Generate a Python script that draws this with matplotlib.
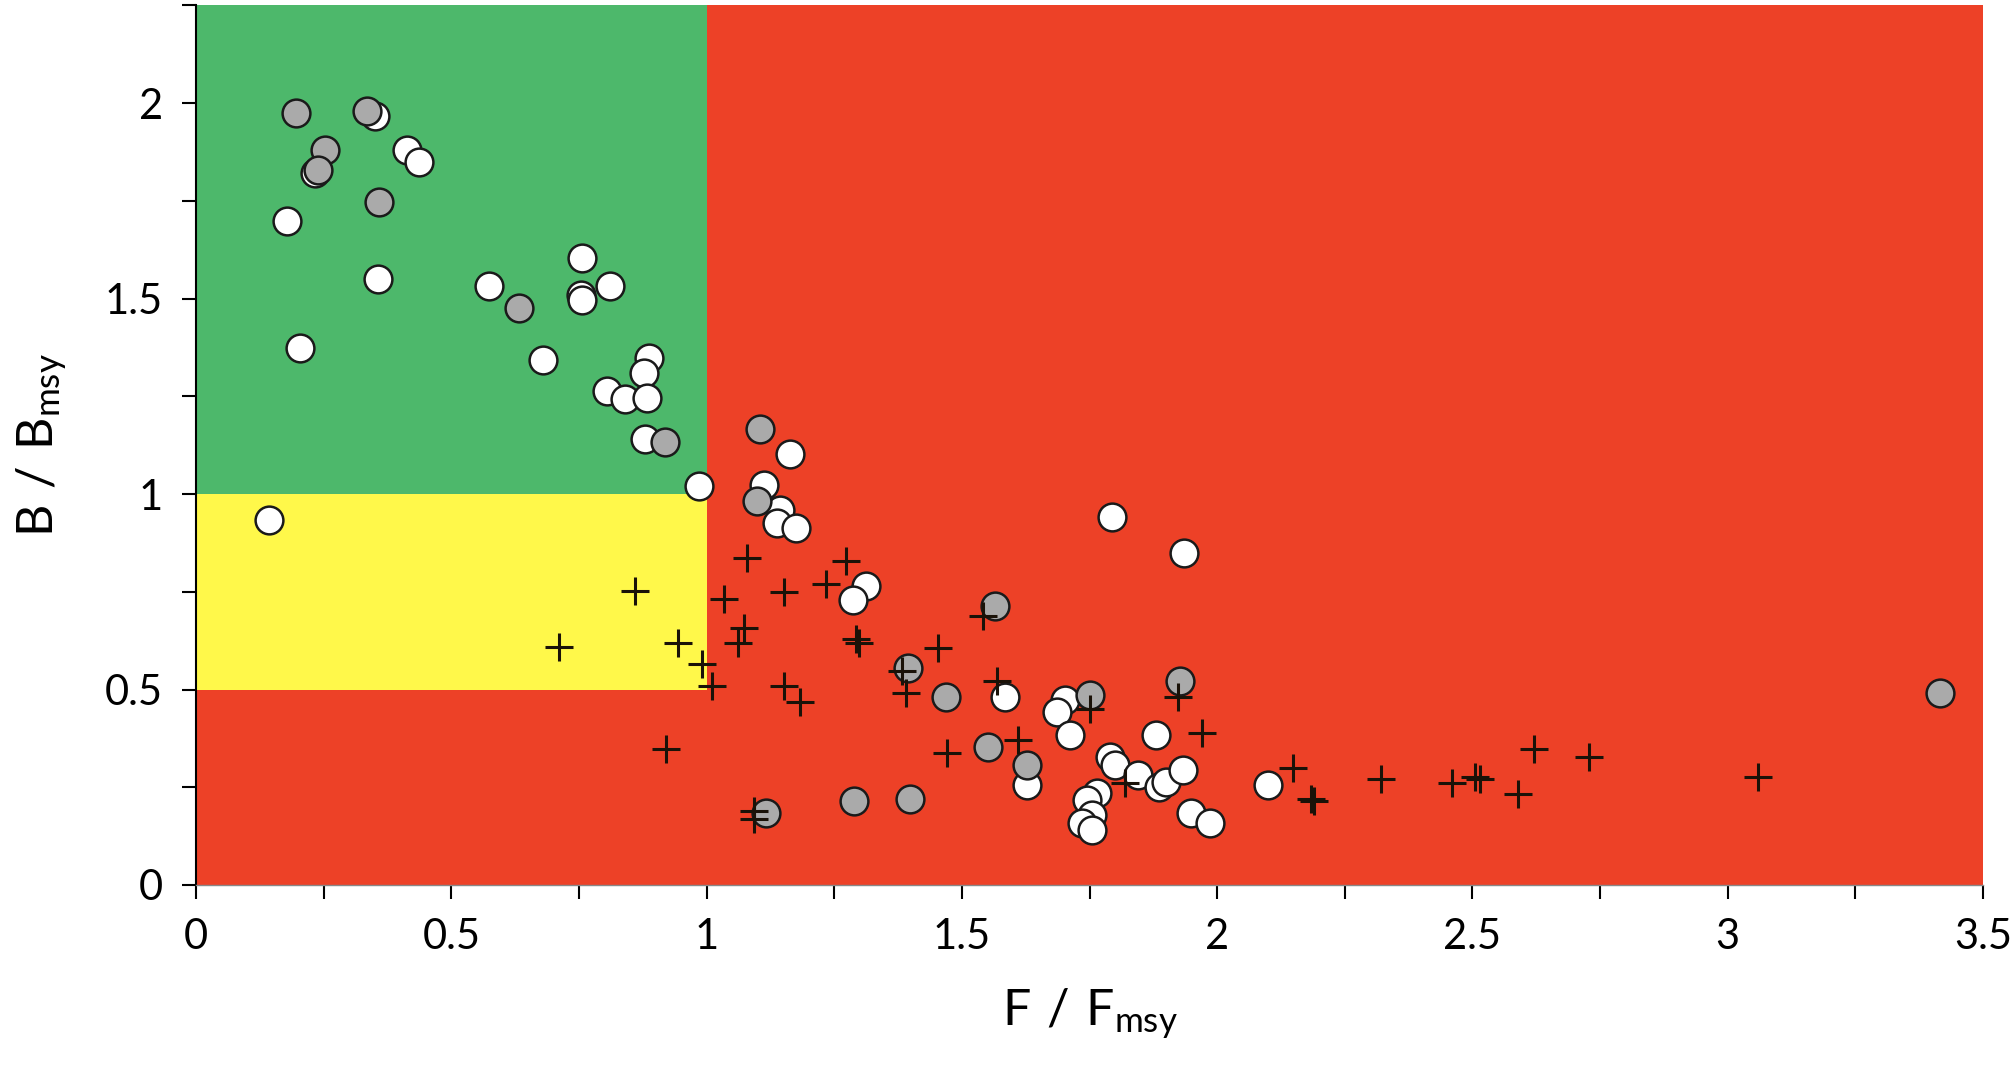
import matplotlib
matplotlib.use("Agg")
import matplotlib.pyplot as plt
from matplotlib.ticker import MultipleLocator

plt.rcParams['font.family'] = ['Lato', 'DejaVu Sans']

# Reference points / thresholds
F_LIMIT = 1.0
B_TARGET = 1.0
B_LIMIT = 0.5
X_MAX = 3.5
Y_MAX = 2.25

# Series 1: white circles
white_F = [0.350, 0.413, 0.437, 0.232, 0.179, 0.356, 0.203, 0.574, 0.756, 0.754,
           0.756, 0.810, 0.680, 0.887, 0.877, 0.804, 0.841, 0.883, 0.880, 0.985,
           0.143, 1.163, 1.112, 1.144, 1.138, 1.175, 1.794, 1.934, 1.312, 1.287,
           1.584, 1.702, 1.686, 1.712, 1.880, 1.790, 1.800, 1.845, 1.886, 1.900,
           1.933, 1.949, 1.986, 2.100, 1.764, 1.745, 1.755, 1.735, 1.755, 1.628]
white_B = [1.966, 1.881, 1.849, 1.822, 1.699, 1.551, 1.373, 1.531, 1.603, 1.510,
           1.496, 1.531, 1.343, 1.349, 1.309, 1.263, 1.242, 1.246, 1.140, 1.020,
           0.934, 1.102, 1.023, 0.959, 0.926, 0.914, 0.940, 0.848, 0.765, 0.730,
           0.480, 0.472, 0.442, 0.383, 0.383, 0.327, 0.306, 0.281, 0.250, 0.263,
           0.293, 0.184, 0.159, 0.255, 0.235, 0.217, 0.179, 0.158, 0.140, 0.255]

# Series 2: grey circles
grey_F = [0.195, 0.334, 0.253, 0.238, 0.358, 0.632, 0.918, 1.105, 1.099, 1.565,
          1.394, 1.469, 1.927, 1.751, 1.551, 1.628, 1.116, 1.289, 1.398, 3.415]
grey_B = [1.975, 1.979, 1.881, 1.830, 1.746, 1.476, 1.134, 1.166, 0.982, 0.714,
          0.556, 0.480, 0.523, 0.485, 0.352, 0.306, 0.184, 0.214, 0.219, 0.490]

# Series 3: plus markers
plus_F = [0.711, 0.860, 0.944, 0.991, 1.011, 0.920, 1.034, 1.079, 1.073, 1.061,
          1.152, 1.152, 1.183, 1.234, 1.273, 1.293, 1.298, 1.093, 1.093, 1.383,
          1.390, 1.453, 1.541, 1.569, 1.471, 1.610, 1.751, 1.923, 1.970, 1.819,
          2.149, 2.183, 2.190, 2.321, 2.460, 2.505, 2.515, 2.589, 2.620, 2.728,
          3.060]
plus_B = [0.610, 0.752, 0.618, 0.566, 0.510, 0.347, 0.732, 0.837, 0.658, 0.618,
          0.750, 0.510, 0.469, 0.770, 0.829, 0.628, 0.618, 0.190, 0.170, 0.548,
          0.490, 0.607, 0.689, 0.523, 0.337, 0.370, 0.450, 0.480, 0.388, 0.260,
          0.298, 0.220, 0.215, 0.270, 0.260, 0.275, 0.272, 0.232, 0.349, 0.327,
          0.276]

GREEN = '#4db86b'
YELLOW = '#fff84a'
RED = '#ed4127'

fig = plt.figure(figsize=(20.11, 10.66), dpi=100)
ax = fig.add_axes([0.0975, 0.1698, 0.8886, 0.8252])

# Zones
ax.fill_between([0, F_LIMIT], B_TARGET, Y_MAX, color=GREEN, lw=0, zorder=0)
ax.fill_between([0, F_LIMIT], B_LIMIT, B_TARGET, color=YELLOW, lw=0, zorder=0)
ax.fill_between([0, F_LIMIT], 0, B_LIMIT, color=RED, lw=0, zorder=0)
ax.fill_between([F_LIMIT, X_MAX], 0, Y_MAX, color=RED, lw=0, zorder=0)

ax.scatter(white_F, white_B, s=400, facecolor='white', edgecolor='#1a1a1a',
           linewidth=1.8, zorder=3)
ax.scatter(grey_F, grey_B, s=400, facecolor='#aaaaaa', edgecolor='#1a1a1a',
           linewidth=1.8, zorder=4)
ax.scatter(plus_F, plus_B, s=420, marker='+', color='#1a1208',
           linewidth=2.2, zorder=5)

ax.set_xlim(0, X_MAX)
ax.set_ylim(0, Y_MAX)

ax.xaxis.set_major_locator(MultipleLocator(0.5))
ax.xaxis.set_minor_locator(MultipleLocator(0.25))
ax.yaxis.set_major_locator(MultipleLocator(0.5))
ax.yaxis.set_minor_locator(MultipleLocator(0.25))

ax.set_xticks([0, 0.5, 1, 1.5, 2, 2.5, 3, 3.5])
ax.set_xticklabels(['0', '0.5', '1', '1.5', '2', '2.5', '3', '3.5'])
ax.set_yticks([0, 0.5, 1, 1.5, 2])
ax.set_yticklabels(['0', '0.5', '1', '1.5', '2'])

for side in ['top', 'right']:
    ax.spines[side].set_visible(False)
ax.spines['bottom'].set_color('#888888')
ax.spines['bottom'].set_linewidth(1.0)
ax.spines['left'].set_color('black')
ax.spines['left'].set_linewidth(1.5)

ax.tick_params(axis='both', which='both', direction='out', length=10,
               width=1.5, color='black', labelsize=30, pad=14)

ax.set_xlabel(r'$\mathregular{F\ /\ F_{msy}}$', fontsize=36, labelpad=22)
ax.set_ylabel(r'$\mathregular{B\ /\ B_{msy}}$', fontsize=36, labelpad=26)

fig.savefig('out.png', dpi=100)
